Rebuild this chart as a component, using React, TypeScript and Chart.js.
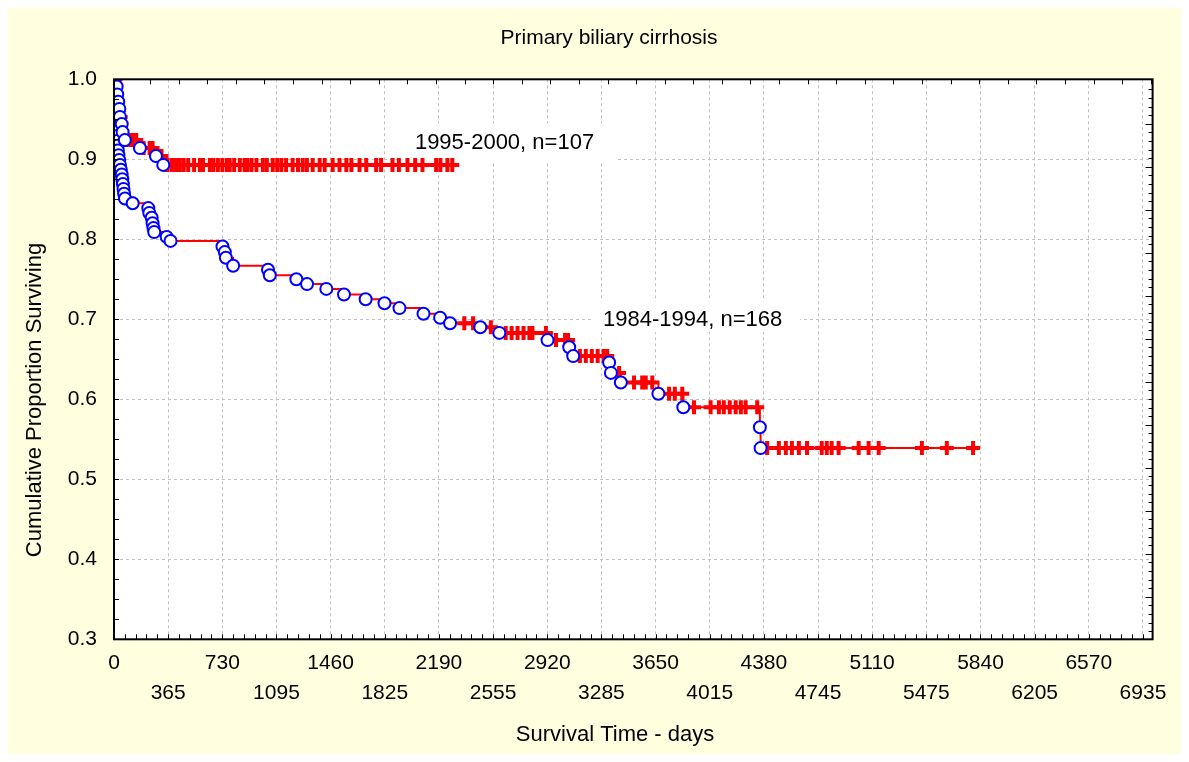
import React, { useEffect, useRef } from 'react';
import { Chart, registerables } from 'chart.js';

Chart.register(...registerables);

// ---- axes ----
const xLabelDays = [0, 365, 730, 1095, 1460, 1825, 2190, 2555, 2920, 3285, 3650, 4015, 4380, 4745, 5110, 5475, 5840, 6205, 6570, 6935];
const xMinorStep = 73;
const xMax = 7000;
const yLabels = [0.3, 0.4, 0.5, 0.6, 0.7, 0.8, 0.9, 1.0];
const yMinorStep = 0.025;

const chartTitle = 'Primary biliary cirrhosis';
const xTitle = 'Survival Time - days';
const yTitle = 'Cumulative Proportion Surviving';

// ---- 1995-2000, n=107 ----
const recentLabel = '1995-2000, n=107';
const recentEventDays = [18, 22, 29, 36, 40, 52, 58, 73, 175, 283, 332];
const recentEventSurv = [0.991, 0.981, 0.972, 0.963, 0.953, 0.944, 0.934, 0.924, 0.914, 0.904, 0.893];
const recentCensorDays = [
  10, 45, 85, 110, 130, 150, 200, 240, 260, 300, 320,
  345, 360, 388, 400, 420, 444, 470, 500, 540, 579, 600, 646, 670, 700, 730, 760, 780, 810, 848, 880,
  900, 927, 960, 1003, 1030, 1070, 1100, 1128, 1160, 1204, 1240, 1272, 1300, 1339, 1386, 1420, 1474,
  1520, 1566, 1600, 1655, 1700, 1767, 1800, 1877, 1920, 1978, 2030, 2079, 2171, 2200, 2247, 2280,
];

// ---- 1984-1994, n=168 ----
const earlyLabel = '1984-1994, n=168';
const earlyEventDays = [
  1, 2, 3, 4, 5, 7, 8, 10, 12, 14, 16, 18, 20, 23, 26, 30, 35, 40, 46, 52,
  56, 60, 64, 68, 74, 126, 231, 238, 254, 260, 266, 271, 355, 381,
  731, 747, 754, 803, 1038, 1050, 1229, 1301, 1431, 1550, 1696, 1823, 1924, 2086, 2198, 2265,
  2469, 2597, 2922, 3068, 3095, 3337, 3349, 3416, 3669, 3837, 4353, 4358,
];
const earlyEventSurv = [
  0.994, 0.988, 0.982, 0.976, 0.970, 0.964, 0.958, 0.952, 0.946, 0.940, 0.935, 0.929, 0.923, 0.917, 0.911, 0.905, 0.899, 0.893, 0.887, 0.881,
  0.875, 0.869, 0.863, 0.857, 0.851, 0.845, 0.839, 0.833, 0.827, 0.820, 0.814, 0.809, 0.803, 0.798,
  0.791, 0.784, 0.777, 0.767, 0.762, 0.755, 0.750, 0.744, 0.738, 0.731, 0.725, 0.720, 0.714, 0.707, 0.702, 0.695,
  0.690, 0.683, 0.674, 0.665, 0.654, 0.646, 0.633, 0.621, 0.607, 0.590, 0.565, 0.539,
];
const earlyCensorDays = [
  90, 2361, 2420, 2540, 2640, 2680, 2720, 2760, 2800, 2820, 2911, 2979, 3040, 3060,
  3140, 3180, 3220, 3260, 3300, 3324, 3404, 3505, 3560, 3584, 3628, 3741, 3780, 3830,
  3909, 4021, 4077, 4110, 4150, 4190, 4225, 4257, 4335,
  4402, 4481, 4528, 4569, 4616, 4671, 4770, 4804, 4837, 4884, 5019, 5086, 5154, 5445, 5613, 5790,
];

// label boxes (data coordinates)
const recentBox = { x0: 1927, x1: 3397, y0: 0.945, y1: 0.897, tx: 2028, ty: 0.920 };
const earlyBox = { x0: 3221, x1: 4623, y0: 0.722, y1: 0.684, tx: 3296, ty: 0.699 };

const RED = '#ff0000';
const BLUE = '#0000ff';
const FONT = "'Liberation Sans', Arial, sans-serif";

function survAt(days: number[], surv: number[], t: number) {
  let s = 1;
  for (let i = 0; i < days.length; i++) if (days[i] <= t) s = surv[i];
  return s;
}

function kmLine(days: number[], surv: number[], censor: number[]) {
  const pts = [{ x: 0, y: 1 }];
  days.forEach((d, i) => pts.push({ x: d, y: surv[i] }));
  const last = Math.max(...censor, ...days);
  pts.push({ x: last, y: survAt(days, surv, last) });
  return pts;
}

const decor = {
  id: 'decor',
  beforeDraw(chart: any) {
    const { ctx, chartArea: a } = chart;
    ctx.save();
    ctx.fillStyle = '#ffffe0';
    ctx.fillRect(0, 0, chart.width, chart.height);
    ctx.fillStyle = '#ffffff';
    ctx.fillRect(a.left, a.top, a.right - a.left, a.bottom - a.top);
    ctx.restore();
  },
  beforeDatasetsDraw(chart: any) {
    const { ctx } = chart;
    const xs = chart.scales.x;
    const ys = chart.scales.y;
    ctx.save();
    [[recentBox, recentLabel], [earlyBox, earlyLabel]].forEach(([b, label]: any) => {
      const x0 = xs.getPixelForValue(b.x0);
      const x1 = xs.getPixelForValue(b.x1);
      const y0 = ys.getPixelForValue(b.y0);
      const y1 = ys.getPixelForValue(b.y1);
      ctx.fillStyle = '#ffffff';
      ctx.fillRect(x0, y0, x1 - x0, y1 - y0);
      ctx.fillStyle = '#000000';
      ctx.font = `22px ${FONT}`;
      ctx.textAlign = 'left';
      ctx.textBaseline = 'middle';
      ctx.fillText(label, xs.getPixelForValue(b.tx), ys.getPixelForValue(b.ty));
    });
    ctx.restore();
  },
  afterDatasetsDraw(chart: any) {
    const { ctx, chartArea: a } = chart;
    const xs = chart.scales.x;
    const ys = chart.scales.y;
    ctx.save();
    ctx.strokeStyle = '#000000';
    ctx.lineWidth = 1;
    ctx.beginPath();
    xs.ticks.forEach((t: any) => {
      const px = Math.round(xs.getPixelForValue(t.value)) + 0.5;
      ctx.moveTo(px, a.bottom);
      ctx.lineTo(px, a.bottom - 5);
    });
    for (let v = 243; v < xMax; v += 192.7) {
      const px = Math.round(xs.getPixelForValue(v)) + 0.5;
      ctx.moveTo(px, a.top);
      ctx.lineTo(px, a.top + 5);
    }
    ys.ticks.forEach((t: any) => {
      const py = Math.round(ys.getPixelForValue(t.value)) + 0.5;
      ctx.moveTo(a.left, py);
      ctx.lineTo(a.left + 5, py);
    });
    let k = 0;
    for (let v = 0.9875; v > 0.3; v -= 0.01075, k++) {
      const py = Math.round(ys.getPixelForValue(v)) + 0.5;
      ctx.moveTo(a.right, py);
      ctx.lineTo(a.right - (k % 5 === 4 ? 7 : 4), py);
    }
    ctx.stroke();
    ctx.lineWidth = 2;
    ctx.strokeRect(a.left, a.top, a.right - a.left, a.bottom - a.top);
    ctx.restore();
  },
  afterDraw(chart: any) {
    const { ctx } = chart;
    ctx.save();
    ctx.fillStyle = '#000000';
    ctx.textAlign = 'center';
    ctx.textBaseline = 'middle';
    ctx.font = `21px ${FONT}`;
    ctx.fillText(chartTitle, 601, 30);
    ctx.font = `22px ${FONT}`;
    ctx.fillText(xTitle, 607, 727);
    ctx.translate(27, 392);
    ctx.rotate(-Math.PI / 2);
    ctx.fillText(yTitle, 0, 0);
    ctx.restore();
  },
};

export default function App() {
  const ref = useRef<HTMLCanvasElement | null>(null);
  useEffect(() => {
    if (!ref.current) return;
    const recentCensor = recentCensorDays.map((d) => ({ x: d, y: survAt(recentEventDays, recentEventSurv, d) }));
    const earlyCensor = earlyCensorDays.map((d) => ({ x: d, y: survAt(earlyEventDays, earlyEventSurv, d) }));
    const recentEvents = recentEventDays.map((d, i) => ({ x: d, y: recentEventSurv[i] }));
    const earlyEvents = earlyEventDays.map((d, i) => ({ x: d, y: earlyEventSurv[i] }));

    const lineDs = (data: any[]) => ({
      type: 'line' as const,
      data,
      stepped: true,
      showLine: true,
      borderColor: RED,
      borderWidth: 2,
      pointRadius: 0,
      fill: false,
      order: 3,
    });
    const censorDs = (data: any[]) => ({
      type: 'scatter' as const,
      data,
      pointStyle: 'cross',
      pointRadius: 7,
      borderColor: RED,
      backgroundColor: RED,
      pointBorderWidth: 4,
      borderWidth: 4,
      showLine: false,
      order: 2,
    });
    const eventDs = (data: any[]) => ({
      type: 'scatter' as const,
      data,
      pointStyle: 'circle',
      pointRadius: 6,
      pointBorderWidth: 2,
      borderColor: BLUE,
      backgroundColor: '#ffffff',
      showLine: false,
      order: 1,
    });

    const chart = new Chart(ref.current, {
      type: 'scatter',
      data: {
        datasets: [
          lineDs(kmLine(recentEventDays, recentEventSurv, recentCensorDays)),
          lineDs(kmLine(earlyEventDays, earlyEventSurv, earlyCensorDays)),
          censorDs(recentCensor),
          censorDs(earlyCensor),
          eventDs(recentEvents),
          eventDs(earlyEvents),
        ] as any,
      },
      options: {
        animation: false,
        responsive: true,
        maintainAspectRatio: false,
        layout: { padding: { top: 71.3, left: 0, right: 28.4, bottom: 0 } },
        plugins: { legend: { display: false }, tooltip: { enabled: false }, title: { display: false } },
        scales: {
          x: {
            type: 'linear',
            min: 0,
            max: xMax,
            afterBuildTicks: (s: any) => {
              const t = [];
              for (let v = 0; v <= xLabelDays[xLabelDays.length - 1]; v += xMinorStep) t.push({ value: v });
              s.ticks = t;
            },
            afterFit: (s: any) => { s.height = 114.7; },
            border: { display: false, dash: [3, 3] },
            grid: {
              drawTicks: false,
              lineWidth: 1,
              color: (c: any) => {
                const v = c.tick ? c.tick.value : -1;
                return v > 0 && xLabelDays.includes(v) ? '#c0c0c0' : 'rgba(0,0,0,0)';
              },
            },
            ticks: {
              autoSkip: false,
              maxRotation: 0,
              padding: 8.7,
              color: '#000000',
              font: { family: FONT, size: 21, lineHeight: '30px' },
              callback: (v: any) => {
                const i = xLabelDays.indexOf(v);
                if (i < 0) return '';
                return i % 2 === 0 ? String(v) : ['', String(v)];
              },
            },
          },
          y: {
            type: 'linear',
            min: yLabels[0],
            max: yLabels[yLabels.length - 1],
            afterBuildTicks: (s: any) => {
              const t = [];
              const n = Math.round((yLabels[yLabels.length - 1] - yLabels[0]) / yMinorStep);
              for (let i = 0; i <= n; i++) t.push({ value: +(yLabels[0] + i * yMinorStep).toFixed(3) });
              s.ticks = t;
            },
            afterFit: (s: any) => { s.width = 106; },
            border: { display: false, dash: [3, 3] },
            grid: {
              drawTicks: false,
              lineWidth: 1,
              color: (c: any) => {
                const v = c.tick ? Math.round(c.tick.value * 1000) : -1;
                return v % 100 === 0 && v > 300 && v < 1000 ? '#c0c0c0' : 'rgba(0,0,0,0)';
              },
            },
            ticks: {
              autoSkip: false,
              padding: 17,
              color: '#000000',
              font: { family: FONT, size: 21 },
              callback: (v: any) => {
                const r = Math.round(v * 1000);
                return r % 100 === 0 ? (r / 1000).toFixed(1) : '';
              },
            },
          },
        },
      },
      plugins: [decor],
    });
    return () => chart.destroy();
  }, []);

  return (
    <div style={{ width: 1173, height: 746, position: 'relative' }}>
      <canvas ref={ref} />
    </div>
  );
}
